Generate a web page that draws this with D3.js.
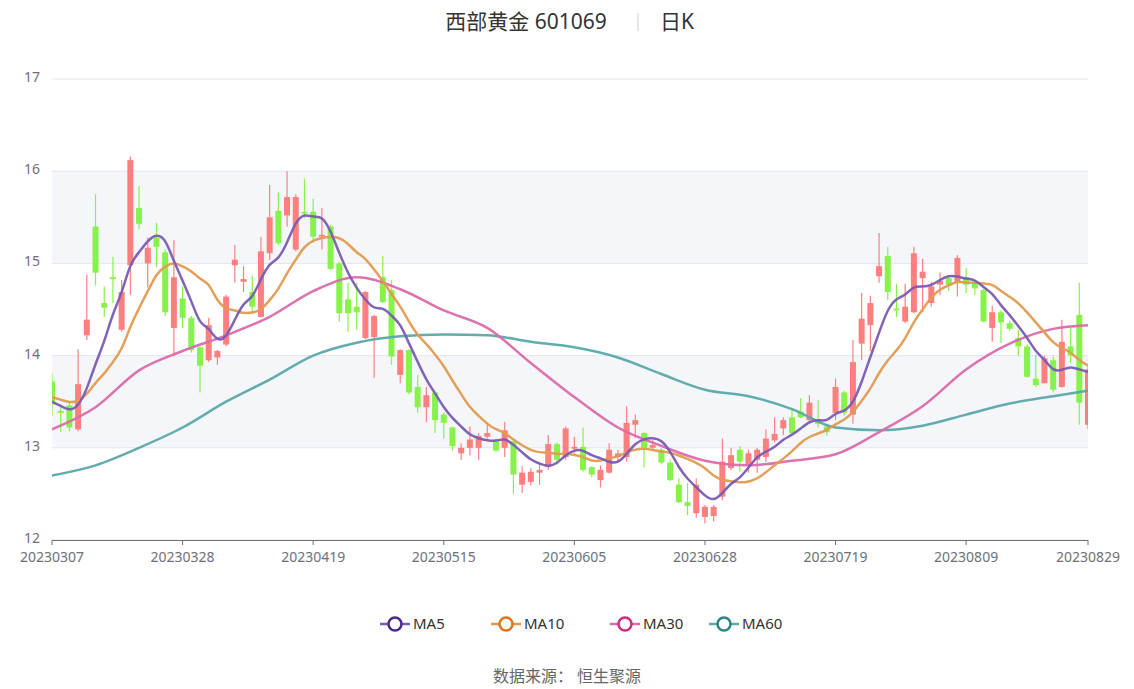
<!DOCTYPE html>
<html><head><meta charset="utf-8">
<script src="https://cdn.jsdelivr.net/npm/d3@7/dist/d3.min.js"></script>
<style>body{margin:0;background:#fff;font-family:"Noto Sans","Noto Sans CJK SC",sans-serif}</style>
</head><body><svg id="c" width="1134" height="689"></svg>
<script>
const dates = ["20230307","20230308","20230309","20230310","20230313","20230314","20230315","20230316","20230317","20230320","20230321","20230322","20230323","20230324","20230327","20230328","20230329","20230330","20230331","20230403","20230404","20230406","20230407","20230410","20230411","20230412","20230413","20230414","20230417","20230418","20230419","20230420","20230421","20230424","20230425","20230426","20230427","20230428","20230504","20230505","20230508","20230509","20230510","20230511","20230512","20230515","20230516","20230517","20230518","20230519","20230522","20230523","20230524","20230525","20230526","20230529","20230530","20230531","20230601","20230602","20230605","20230606","20230607","20230608","20230609","20230612","20230613","20230614","20230615","20230616","20230619","20230620","20230621","20230626","20230627","20230628","20230629","20230630","20230703","20230704","20230705","20230706","20230707","20230710","20230711","20230712","20230713","20230714","20230717","20230718","20230719","20230720","20230721","20230724","20230725","20230726","20230727","20230728","20230731","20230801","20230802","20230803","20230804","20230807","20230808","20230809","20230810","20230811","20230814","20230815","20230816","20230817","20230818","20230821","20230822","20230823","20230824","20230825","20230828","20230829"];
const opens  = [13.72,13.40,13.46,13.20,14.22,15.40,14.57,14.85,14.28,14.98,15.60,15.00,15.28,15.12,14.30,14.62,14.41,14.09,13.95,13.98,14.12,14.98,14.80,14.69,14.42,15.11,15.57,15.52,15.15,15.56,15.56,15.29,15.40,15.00,14.61,14.53,14.19,14.20,14.85,14.71,13.79,14.06,13.66,13.44,13.60,13.36,13.22,12.94,13.00,13.00,13.12,13.09,13.00,13.07,12.60,12.63,12.73,12.79,13.04,12.90,12.99,13.01,12.79,12.65,12.73,12.90,12.90,13.25,13.16,13.00,12.98,12.84,12.60,12.41,12.29,12.25,12.26,12.47,12.78,12.98,12.81,12.87,12.90,13.08,13.21,13.33,13.39,13.30,13.31,13.23,13.38,13.60,13.36,14.13,14.33,14.86,15.08,14.51,14.37,14.47,14.84,14.57,14.77,14.84,14.79,14.85,14.79,14.71,14.30,14.47,14.35,14.19,14.10,13.75,13.70,13.95,13.66,14.10,14.44,13.25];
const closes = [13.47,13.38,13.22,13.69,14.39,14.90,14.52,14.83,14.69,16.12,15.43,15.17,15.18,14.47,14.85,14.41,14.06,13.89,14.33,14.05,14.64,15.04,14.83,14.53,15.13,15.50,15.22,15.72,15.72,15.54,15.29,15.31,14.94,14.46,14.46,14.47,14.69,14.43,14.58,13.99,14.06,13.60,13.44,13.57,13.30,13.27,13.02,13.00,13.09,13.13,13.16,12.97,13.19,12.71,12.73,12.74,12.76,13.04,12.87,13.21,13.01,12.76,12.71,12.76,12.98,12.94,13.27,13.30,13.00,13.03,12.84,12.65,12.41,12.37,12.60,12.36,12.36,12.85,12.92,12.85,12.94,12.98,13.10,13.15,13.30,13.16,13.33,13.49,13.26,13.17,13.66,13.38,13.93,14.40,14.57,14.97,14.69,14.49,14.53,15.11,14.91,14.75,14.81,14.77,15.06,14.77,14.73,14.37,14.47,14.36,14.29,14.10,13.77,13.68,13.97,13.63,14.15,14.00,13.49,13.85];
const highs  = [13.80,13.45,13.50,14.07,14.88,15.75,14.75,15.07,14.82,16.16,15.84,15.28,15.44,15.15,15.25,14.75,14.43,14.10,14.41,14.06,14.66,15.20,14.97,14.87,15.29,15.85,15.77,16.00,15.75,15.92,15.70,15.60,15.42,15.02,14.79,14.79,14.70,14.44,15.08,14.82,14.07,14.07,13.79,13.66,13.62,13.38,13.23,13.05,13.23,13.16,13.27,13.10,13.28,13.08,12.80,12.78,12.85,13.14,13.06,13.23,13.12,13.22,12.80,12.81,13.05,12.98,13.45,13.36,13.17,13.09,13.00,12.87,12.67,12.62,12.67,12.38,12.38,13.10,13.00,13.02,12.98,13.00,13.20,13.33,13.33,13.43,13.54,13.57,13.52,13.25,13.75,13.62,14.17,14.68,14.65,15.33,15.18,14.78,14.78,15.18,15.05,14.80,14.90,14.87,15.09,14.95,14.82,14.72,14.54,14.49,14.38,14.28,14.12,14.01,14.00,13.99,14.39,14.30,14.79,13.90];
const lows   = [13.35,13.17,13.18,13.18,14.17,14.76,14.42,14.57,14.26,14.66,15.37,14.74,14.96,14.43,13.99,14.30,14.03,13.60,13.93,13.90,14.10,14.79,14.69,14.46,14.41,15.04,15.20,15.40,15.13,15.49,15.22,15.15,14.93,14.37,14.26,14.28,14.18,13.76,14.57,13.90,13.70,13.58,13.38,13.28,13.16,13.10,12.97,12.87,12.92,12.87,13.10,12.96,12.90,12.50,12.51,12.59,12.60,12.76,12.82,12.87,12.94,12.74,12.68,12.57,12.72,12.85,12.85,13.11,12.79,12.97,12.82,12.64,12.40,12.27,12.24,12.18,12.20,12.43,12.76,12.74,12.73,12.73,12.85,13.06,13.14,13.14,13.32,13.28,13.22,13.13,13.30,13.35,13.26,13.95,14.05,14.79,14.60,14.42,14.35,14.46,14.47,14.53,14.66,14.70,14.64,14.68,14.66,14.36,14.15,14.14,14.27,14.00,13.76,13.66,13.70,13.60,13.65,13.92,13.25,13.20];
// closes before the first shown day, used for the first MA5 / MA10 values
const priorCloses = [13.65,13.55,13.60,13.60,13.60,13.60,13.50,13.45,13.48];
// MA30 / MA60 every 5 trading days
const maIdx = [0,5,10,15,20,25,30,35,40,45,50,55,60,65,70,75,80,85,90,95,100,105,110,115,119];
const ma30 = [13.20,13.44,13.84,14.05,14.22,14.42,14.70,14.85,14.72,14.49,14.30,13.92,13.55,13.22,13.02,12.86,12.81,12.86,12.93,13.17,13.45,13.85,14.13,14.29,14.33];
const ma60 = [12.70,12.81,13.00,13.22,13.50,13.74,14.00,14.14,14.21,14.23,14.22,14.15,14.09,13.98,13.80,13.63,13.56,13.42,13.22,13.19,13.24,13.36,13.48,13.56,13.62];
const yTicks = [12,13,14,15,16,17];
const xLabelIdx = [0,15,30,45,60,75,90,105,119];

const svg = d3.select("#c");
const L=52,R=1088,T=79,B=540;
const x = d3.scalePoint().domain(d3.range(dates.length)).range([L,R]);
const y = d3.scaleLinear().domain([12,17]).range([B,T]);

for(let i=0;i<yTicks.length-1;i++){
  if(i%2===1) svg.append("rect").attr("x",L).attr("width",R-L).attr("y",y(yTicks[i+1])).attr("height",y(yTicks[i])-y(yTicks[i+1])).attr("fill","#f5f6fa");
}
svg.append("g").selectAll("line").data(yTicks).join("line")
 .attr("x1",L).attr("x2",R).attr("y1",d=>y(d)).attr("y2",d=>y(d)).attr("stroke","#e0e6f1");
svg.append("g").selectAll("text").data(yTicks).join("text")
 .attr("x",L-12).attr("y",d=>y(d)+3).attr("text-anchor","end").attr("fill","#6e7079").attr("font-size",14).text(d=>d);

svg.append("clipPath").attr("id","cp").append("rect").attr("x",L).attr("y",0).attr("width",R-L).attr("height",B);
const g = svg.append("g").attr("clip-path","url(#cp)");

const up="#ff7f7f", dn="#86f24a";
const cg = g.append("g");
dates.forEach((d,i)=>{
  const o=opens[i],c=closes[i],col=c>=o?up:dn,cx=x(i);
  cg.append("line").attr("x1",cx).attr("x2",cx).attr("y1",y(highs[i])).attr("y2",y(lows[i])).attr("stroke",col).attr("stroke-width",1.2);
  const top=y(Math.max(o,c)),h=Math.max(1.5,Math.abs(y(o)-y(c)));
  cg.append("rect").attr("x",cx-3).attr("width",6).attr("y",top).attr("height",h).attr("fill",col);
});

const all = priorCloses.concat(closes);
function ma(n){return closes.map((c,i)=>d3.mean(all.slice(i+9-n+1,i+10)));}
const line = d3.line().x(d=>x(d[0])).y(d=>y(d[1]));
const series = [
 {name:"MA5",col:"#7a5cb3",dot:"#4a2a8c",pts:ma(5).map((v,i)=>[i,v]),curve:d3.curveBasis},
 {name:"MA10",col:"#e39a50",dot:"#e07420",pts:ma(10).map((v,i)=>[i,v]),curve:d3.curveBasis},
 {name:"MA30",col:"#da6aaa",dot:"#cc2d85",pts:maIdx.map((k,j)=>[k,ma30[j]]),curve:d3.curveMonotoneX},
 {name:"MA60",col:"#5aa8a9",dot:"#2a8485",pts:maIdx.map((k,j)=>[k,ma60[j]]),curve:d3.curveMonotoneX}
];
series.slice().reverse().forEach(s=>{
  g.append("path").attr("d",line.curve(s.curve)(s.pts)).attr("fill","none").attr("stroke",s.col).attr("stroke-width",2.5).attr("stroke-opacity",0.95);
});

svg.append("line").attr("x1",L).attr("x2",R).attr("y1",B+0.5).attr("y2",B+0.5).attr("stroke","#6e7079");
xLabelIdx.forEach(i=>{
  svg.append("line").attr("x1",x(i)).attr("x2",x(i)).attr("y1",B).attr("y2",B+5).attr("stroke","#6e7079");
  svg.append("text").attr("x",x(i)).attr("y",B+22).attr("text-anchor","middle").attr("fill","#6e7079").attr("font-size",14).text(dates[i]);
});

svg.append("text").attr("x",526).attr("y",29).attr("text-anchor","middle").attr("font-size",21).attr("fill","#333").text("西部黄金 601069");
svg.append("line").attr("x1",638).attr("x2",638).attr("y1",13).attr("y2",31).attr("stroke","#ccc");
svg.append("text").attr("x",660).attr("y",29).attr("font-size",21).attr("fill","#333").text("日K");

const lx=[380,491,610,709];
series.forEach((s,i)=>{
  const lg=svg.append("g").attr("transform",`translate(${lx[i]},624)`);
  lg.append("line").attr("x1",0).attr("x2",30).attr("stroke",s.col).attr("stroke-width",2.5);
  lg.append("circle").attr("cx",15).attr("r",6.5).attr("fill","#fff").attr("stroke",s.dot).attr("stroke-width",2.5);
  lg.append("text").attr("x",33).attr("y",5).attr("font-size",15).attr("fill","#333").text(s.name);
});
svg.append("text").attr("x",567).attr("y",682).attr("text-anchor","middle").attr("font-size",16).attr("fill","#666").text("数据来源： 恒生聚源");
</script></body></html>
